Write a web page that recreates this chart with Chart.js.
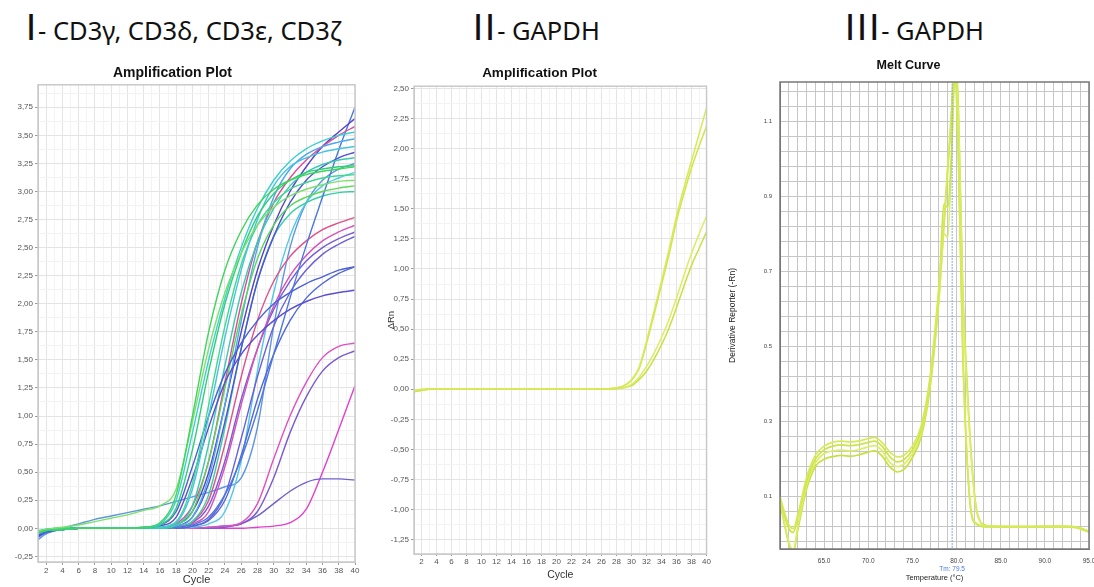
<!DOCTYPE html>
<html>

<head>
    <title>qPCR Amplification and Melt Curves</title>
    <script src="https://cdn.jsdelivr.net/npm/chart.js"></script>
    <style>
        body {
            margin: 0;
            width: 1094px;
            height: 587px;
            overflow: hidden;
            position: relative;
            background: #fff;
            font-family: "Noto Sans", sans-serif;
        }

        .heading {
            position: absolute;
            top: 6px;
            font-size: 25.5px;
            line-height: 40px;
            color: #111;
            white-space: nowrap;
        }

        .heading .rn {
            font-family: Lato, "Liberation Sans", sans-serif;
            font-weight: 400;
            font-size: 36px;
            letter-spacing: 2px;
        }

        .panel {
            position: absolute;
        }
    </style>
</head>

<body>
    <div class="heading" style="left:26px"><span class="rn">I</span>- CD3γ, CD3δ, CD3ε, CD3ζ</div>
    <div class="heading" style="left:473px"><span class="rn">II</span>- GAPDH</div>
    <div class="heading" style="left:845px"><span class="rn">III</span>- GAPDH</div>

    <div class="panel" style="left:-10px; top:60px; width:372px; height:527px"><canvas id="amp-cd3"></canvas></div>
    <div class="panel" style="left:372px; top:60px; width:340px; height:521px"><canvas id="amp-gapdh"></canvas></div>
    <div class="panel" style="left:728px; top:50px; width:378px; height:537px"><canvas id="melt-gapdh"></canvas></div>

    <script>
        // ---- CD3 amplification (delta Rn per cycle) ----
        const cd3Cycles = [1, 2, 4, 6, 8, 10, 12, 14, 16, 18, 20, 22, 24, 26, 28, 30, 32, 34, 36, 38, 40];

        const g1 = [-0.04, -0.02, -0.01, 0, 0, 0, 0, 0.01, 0.05, 0.30, 1.00, 1.75, 2.30, 2.65, 2.88, 3.02, 3.10, 3.15, 3.18, 3.20, 3.22];
        const g2 = [-0.03, -0.01, 0.01, 0.03, 0.06, 0.09, 0.12, 0.16, 0.20, 0.35, 0.95, 1.60, 2.10, 2.45, 2.70, 2.86, 2.96, 3.02, 3.06, 3.09, 3.10];
        const c1 = [-0.05, -0.02, -0.01, 0, 0, 0, 0, 0.01, 0.04, 0.25, 0.85, 1.50, 2.05, 2.50, 2.85, 3.10, 3.27, 3.38, 3.45, 3.50, 3.53];
        const g3 = [-0.04, -0.02, -0.01, 0, 0, 0, 0, 0, 0.03, 0.18, 0.70, 1.40, 2.00, 2.45, 2.78, 2.98, 3.10, 3.17, 3.20, 3.22, 3.23];
        const c2 = [-0.03, -0.01, -0.01, 0, 0, 0, 0, 0, 0.01, 0.05, 0.35, 1.00, 1.70, 2.30, 2.75, 3.05, 3.22, 3.30, 3.35, 3.38, 3.40];
        const g4 = [-0.02, -0.01, 0, 0, 0, 0, 0, 0, 0.01, 0.06, 0.40, 1.10, 1.80, 2.35, 2.70, 2.90, 3.02, 3.08, 3.12, 3.14, 3.15];
        const b1 = [-0.06, -0.03, -0.01, 0, 0, 0, 0, 0.01, 0.03, 0.15, 0.55, 1.00, 1.38, 1.65, 1.85, 2.00, 2.10, 2.18, 2.24, 2.30, 2.33];
        const b2 = [-0.05, -0.02, -0.01, 0, 0, 0, 0, 0, 0.02, 0.10, 0.45, 0.90, 1.30, 1.55, 1.72, 1.85, 1.95, 2.02, 2.07, 2.10, 2.12];
        const c3 = [-0.03, -0.01, 0, 0, 0, 0, 0, 0, 0, 0.03, 0.20, 0.75, 1.45, 2.10, 2.55, 2.85, 3.05, 3.17, 3.24, 3.28, 3.30];
        const g5 = [-0.04, -0.02, -0.01, 0, 0, 0, 0, 0, 0, 0.03, 0.15, 0.60, 1.25, 1.90, 2.40, 2.70, 2.87, 2.95, 3.00, 3.03, 3.05];
        const lb1 = [-0.05, -0.02, -0.01, 0, 0, 0, 0, 0, 0, 0.02, 0.10, 0.45, 1.10, 1.85, 2.50, 2.95, 3.20, 3.33, 3.40, 3.44, 3.47];
        const v6 = [-0.06, -0.03, -0.01, 0, 0, 0, 0, 0, 0, 0.02, 0.10, 0.40, 0.95, 1.60, 2.20, 2.60, 2.90, 3.10, 3.22, 3.30, 3.35];
        const p1 = [-0.05, -0.02, -0.01, 0, 0, 0, 0, 0, 0, 0.04, 0.20, 0.60, 1.30, 2.00, 2.55, 2.90, 3.12, 3.28, 3.40, 3.50, 3.58];
        const v1 = [-0.07, -0.03, -0.01, 0, 0, 0, 0, 0, 0, 0.03, 0.15, 0.50, 1.10, 1.75, 2.30, 2.70, 3.00, 3.22, 3.40, 3.53, 3.65];
        const b3 = [-0.08, -0.04, -0.01, 0, 0, 0, 0, 0, 0, 0.01, 0.03, 0.10, 0.30, 0.62, 1.05, 1.55, 2.05, 2.52, 2.95, 3.37, 3.75];
        const g6 = [-0.03, -0.01, 0, 0, 0, 0, 0, 0, 0, 0.01, 0.06, 0.30, 0.90, 1.60, 2.20, 2.60, 2.80, 2.90, 2.96, 2.99, 3.00];
        const p2 = [-0.04, -0.02, -0.01, 0, 0, 0, 0, 0, 0, 0.01, 0.06, 0.25, 0.75, 1.35, 1.85, 2.20, 2.42, 2.56, 2.66, 2.72, 2.77];
        const p3 = [-0.05, -0.02, -0.01, 0, 0, 0, 0, 0, 0, 0.01, 0.04, 0.15, 0.55, 1.10, 1.60, 1.98, 2.25, 2.43, 2.56, 2.64, 2.70];
        const v2 = [-0.05, -0.02, -0.01, 0, 0, 0, 0, 0, 0, 0.01, 0.05, 0.20, 0.60, 1.15, 1.60, 1.95, 2.20, 2.38, 2.50, 2.58, 2.64];
        const v3 = [-0.06, -0.03, -0.01, 0, 0, 0, 0, 0, 0, 0, 0.02, 0.08, 0.30, 0.80, 1.35, 1.80, 2.10, 2.30, 2.44, 2.53, 2.60];
        const b4 = [-0.06, -0.03, -0.01, 0, 0, 0, 0, 0, 0, 0, 0.02, 0.07, 0.25, 0.65, 1.15, 1.55, 1.85, 2.05, 2.18, 2.27, 2.33];
        const c4 = [-0.04, -0.02, -0.01, 0, 0, 0, 0, 0, 0, 0, 0.01, 0.04, 0.15, 0.60, 1.40, 2.10, 2.60, 2.90, 3.05, 3.12, 3.17];
        const lb2 = [-0.10, -0.05, 0, 0.04, 0.08, 0.11, 0.14, 0.17, 0.20, 0.24, 0.28, 0.32, 0.37, 0.45, 0.90, 1.80, 2.50, 2.90, 3.10, 3.20, 3.25];
        const p4 = [-0.05, -0.02, -0.01, 0, 0, 0, 0, 0, 0, 0, 0, 0.01, 0.02, 0.05, 0.22, 0.62, 1.00, 1.30, 1.52, 1.62, 1.65];
        const v4 = [-0.06, -0.03, -0.01, 0, 0, 0, 0, 0, 0, 0, 0, 0.01, 0.02, 0.04, 0.15, 0.45, 0.85, 1.17, 1.40, 1.52, 1.58];
        const v5 = [-0.07, -0.03, -0.01, 0, 0, 0, 0, 0, 0, 0, 0, 0, 0.01, 0.04, 0.11, 0.22, 0.33, 0.41, 0.44, 0.44, 0.43];
        const m1 = [-0.05, -0.02, -0.01, 0, 0, 0, 0, 0, 0, 0, 0, 0, 0, 0, 0.01, 0.02, 0.05, 0.17, 0.50, 0.88, 1.27];

        const cd3Lines = [g1, g2, c1, g3, c2, g4, b1, b2, c3, g5, lb1, v6, p1, v1, b3, g6, p2, p3, v2, v3, b4, c4, lb2, p4, v4, v5, m1];
        const cd3Colors = ['#3fd45a', '#7de06a', '#3ccfcf', '#2ecf78', '#45c3e0', '#40d890', '#4a5fd8', '#5a4fd0', '#38cbb0',
            '#58d858', '#4aa8ec', '#5050d8', '#e04a9a', '#5a3fc8', '#4a78e0', '#33d0a0', '#e0508a', '#d850b8', '#7a5ad8',
            '#6a60d8', '#5068d8', '#50c8e8', '#5f96e0', '#e050c0', '#7a58d0', '#7060d0', '#e040d0'];

        // ---- GAPDH amplification ----
        const gapdhCycles = [1, 2, 3, 4, 6, 8, 12, 16, 20, 24, 26, 27, 28, 29, 30, 31, 32, 33, 34, 35, 36, 37, 38, 39, 40];
        const gapdhA = [-0.01, 0, 0.005, 0.005, 0, 0, 0, 0, 0, 0, 0.002, 0.005, 0.012, 0.03, 0.08, 0.18, 0.40, 0.65, 0.90, 1.16, 1.44, 1.68, 1.90, 2.12, 2.34];
        const gapdhB = [-0.02, -0.005, 0, 0.005, 0, 0, 0, 0, 0, 0, 0.002, 0.005, 0.01, 0.028, 0.075, 0.17, 0.38, 0.62, 0.87, 1.12, 1.40, 1.63, 1.84, 2.02, 2.19];
        const gapdhC = [-0.015, -0.005, 0, 0.005, 0, 0, 0, 0, 0, 0, 0, 0.003, 0.007, 0.015, 0.04, 0.10, 0.19, 0.30, 0.43, 0.58, 0.76, 0.95, 1.13, 1.29, 1.44];
        const gapdhD = [-0.02, -0.01, 0, 0.003, 0, 0, 0, 0, 0, 0, 0, 0.002, 0.005, 0.012, 0.03, 0.08, 0.15, 0.25, 0.37, 0.51, 0.68, 0.86, 1.03, 1.17, 1.31];
        const gapdhColors = ['#d7ea55', '#cfe44a', '#dcec64', '#c9e040'];

        // ---- GAPDH melt curve (derivative reporter vs temperature) ----
        const meltTemps = [60, 61, 61.5, 62, 63, 64, 65, 66, 67, 68, 69, 70, 70.7, 71.5, 72.5, 73.3, 74, 75, 76, 77,
            78, 78.6, 79, 79.4, 79.8, 80.2, 80.7, 81.2, 81.7, 82.2, 82.7, 83.2, 84, 86, 88, 90, 92, 93.5, 95];
        const meltA = [0.10, 0.025, 0.015, 0.05, 0.15, 0.21, 0.235, 0.245, 0.248, 0.246, 0.249, 0.255, 0.258, 0.246, 0.218, 0.206, 0.21, 0.235, 0.29, 0.42,
            0.66, 0.84, 0.98, 1.12, 1.26, 1.02, 0.50, 0.20, 0.055, 0.03, 0.024, 0.022, 0.021, 0.02, 0.02, 0.021, 0.021, 0.019, 0.008];
        const meltB = [0.095, 0.015, 0.005, 0.045, 0.14, 0.20, 0.225, 0.235, 0.238, 0.236, 0.239, 0.245, 0.248, 0.236, 0.205, 0.193, 0.198, 0.225, 0.28, 0.41,
            0.65, 0.88, 0.87, 1.00, 1.22, 1.00, 0.48, 0.19, 0.05, 0.028, 0.022, 0.02, 0.02, 0.019, 0.019, 0.02, 0.02, 0.018, 0.006];
        const meltC = [0.09, -0.02, -0.045, 0.02, 0.13, 0.19, 0.215, 0.222, 0.224, 0.222, 0.226, 0.233, 0.236, 0.224, 0.19, 0.18, 0.186, 0.215, 0.27, 0.40,
            0.62, 0.80, 0.79, 0.98, 1.24, 1.12, 0.64, 0.38, 0.19, 0.07, 0.032, 0.024, 0.021, 0.02, 0.02, 0.02, 0.021, 0.019, 0.007];
        const meltD = [0.085, -0.025, -0.05, 0.01, 0.12, 0.18, 0.2, 0.207, 0.21, 0.208, 0.212, 0.219, 0.222, 0.21, 0.178, 0.166, 0.172, 0.205, 0.26, 0.39,
            0.63, 0.83, 0.97, 1.1, 1.28, 1.14, 0.66, 0.40, 0.20, 0.075, 0.034, 0.025, 0.022, 0.021, 0.021, 0.021, 0.021, 0.02, 0.008];
        const meltColors = ['#d6ea58', '#cde44a', '#dbee66', '#c8e040'];
        const meltTm = 79.5;

        Chart.defaults.font.family = '"Liberation Sans", Arial, sans-serif';
        Chart.defaults.animation = false;

        const onStep = (v, step) => Math.abs(v / step - Math.round(v / step)) < 1e-6;
        const comma = v => (Math.abs(v) < 1e-9 ? 0 : v).toFixed(2).replace('.', ',');

        // ticks on every multiple of step inside the axis range (plus an offset)
        function stepTicks(step, offset) {
            offset = offset || 0;
            return s => {
                const out = [];
                const k0 = Math.ceil((s.min - offset) / step - 1e-9);
                const k1 = Math.floor((s.max - offset) / step + 1e-9);
                for (let k = k0; k <= k1; k++) {
                    out.push({ value: +(offset + k * step).toFixed(4) });
                }
                s.ticks = out;
            };
        }

        // box around the plotting area
        const frame = {
            id: 'frame',
            afterDraw(chart, args, opts) {
                const a = chart.chartArea;
                const ctx = chart.ctx;
                ctx.save();
                ctx.strokeStyle = opts.color;
                ctx.lineWidth = opts.width;
                ctx.strokeRect(a.left, a.top, a.right - a.left, a.bottom - a.top);
                ctx.restore();
            }
        };

        function toPoints(xs, ys) {
            return xs.map((x, i) => ({ x: x, y: ys[i] }));
        }

        function lineSet(xs, ys, color, width) {
            return {
                data: toPoints(xs, ys),
                borderColor: color,
                borderWidth: width,
                pointRadius: 0,
                cubicInterpolationMode: 'monotone',
                fill: false
            };
        }

        function amplificationChart(id, datasets, yMin, yMax, opts) {
            return new Chart(document.getElementById(id), {
                type: 'line',
                data: { datasets: datasets },
                plugins: [frame],
                options: {
                    responsive: true,
                    maintainAspectRatio: false,
                    layout: { padding: { right: opts.right } },
                    plugins: {
                        legend: { display: false },
                        tooltip: { enabled: false },
                        frame: { color: '#c9c9c9', width: 1.5 },
                        title: {
                            display: true,
                            text: 'Amplification Plot',
                            color: '#111',
                            font: { size: opts.titleSize, weight: 'bold' },
                            padding: opts.titlePad
                        }
                    },
                    scales: {
                        x: {
                            type: 'linear',
                            min: 1,
                            max: 40,
                            afterFit: s => { s.height = opts.xHeight; },
                            border: { color: '#c9c9c9' },
                            grid: {
                                color: c => c.tick && c.tick.value % 2 === 0 ? '#e4e4e4' : '#f3f3f3',
                                tickColor: c => c.tick && c.tick.value % 2 === 0 ? '#999' : 'rgba(0,0,0,0)',
                                tickLength: opts.tickLen
                            },
                            ticks: {
                                stepSize: 1,
                                autoSkip: false,
                                maxRotation: 0,
                                padding: 1,
                                color: '#555',
                                font: { size: 8 },
                                callback: v => v % 2 === 0 ? String(v) : ''
                            },
                            title: {
                                display: true,
                                text: 'Cycle',
                                color: '#333',
                                font: { size: opts.cycleSize },
                                padding: { top: 0, bottom: opts.cyclePad }
                            }
                        },
                        y: {
                            min: yMin,
                            max: yMax,
                            afterFit: s => { s.width = opts.yWidth; },
                            afterBuildTicks: stepTicks(0.125),
                            border: { color: '#c9c9c9' },
                            grid: {
                                color: c => c.tick && onStep(c.tick.value, 0.25) ? '#e4e4e4' : '#f3f3f3',
                                tickColor: c => c.tick && onStep(c.tick.value, 0.25) ? '#999' : 'rgba(0,0,0,0)',
                                tickLength: 3
                            },
                            ticks: {
                                autoSkip: false,
                                padding: 2,
                                color: '#555',
                                font: { size: 8 },
                                callback: v => onStep(v, 0.25) ? comma(v) : ''
                            },
                            title: opts.yTitle
                        }
                    }
                }
            });
        }

        amplificationChart('amp-cd3',
            cd3Lines.map((ys, i) => lineSet(cd3Cycles, ys, cd3Colors[i], 1.4)),
            -0.30, 3.95,
            {
                right: 7, titleSize: 14, titlePad: { top: 5, bottom: 3 }, xHeight: 25, yWidth: 48,
                tickLen: 3, cycleSize: 11, cyclePad: 0, yTitle: { display: false }
            });

        amplificationChart('amp-gapdh',
            [gapdhA, gapdhB, gapdhC, gapdhD].map((ys, i) => lineSet(gapdhCycles, ys, gapdhColors[i], 1.5)),
            -1.37, 2.52,
            {
                right: 5, titleSize: 13.5, titlePad: { top: 5, bottom: 5 }, xHeight: 27, yWidth: 42,
                tickLen: 2, cycleSize: 10.5, cyclePad: 0,
                yTitle: { display: true, text: 'ΔRn', color: '#333', font: { size: 9.5 }, padding: { top: 14, bottom: 0 } }
            });

        // Tm marker label under the temperature axis
        const tmLabel = {
            id: 'tmLabel',
            afterDraw(chart) {
                const x = chart.scales.x.getPixelForValue(meltTm);
                const ctx = chart.ctx;
                ctx.save();
                ctx.fillStyle = '#4a7be0';
                ctx.font = '6.5px "Liberation Sans", Arial, sans-serif';
                ctx.textAlign = 'center';
                ctx.textBaseline = 'middle';
                ctx.fillText('Tm: ' + meltTm, x, chart.chartArea.bottom + 20);
                ctx.restore();
            }
        };

        const meltSets = [meltA, meltB, meltC, meltD].map((ys, i) => lineSet(meltTemps, ys, meltColors[i], 1.7));
        meltSets.unshift({
            data: [{ x: meltTm, y: -0.1 }, { x: meltTm, y: 1.5 }],
            borderColor: '#7ea6f0',
            borderWidth: 1,
            borderDash: [2, 1],
            pointRadius: 0
        });

        new Chart(document.getElementById('melt-gapdh'), {
            type: 'line',
            data: { datasets: meltSets },
            plugins: [frame, tmLabel],
            options: {
                responsive: true,
                maintainAspectRatio: false,
                layout: { padding: { right: 17 } },
                plugins: {
                    legend: { display: false },
                    tooltip: { enabled: false },
                    frame: { color: '#777', width: 1.5 },
                    title: {
                        display: true,
                        text: 'Melt Curve',
                        color: '#111',
                        font: { size: 12.5, weight: 'bold' },
                        padding: { top: 8.5, bottom: 8.5 }
                    }
                },
                scales: {
                    x: {
                        type: 'linear',
                        min: 60,
                        max: 95,
                        afterFit: s => { s.height = 38; },
                        border: { color: '#777' },
                        grid: { color: '#c6c6c6', drawTicks: false },
                        ticks: {
                            stepSize: 1,
                            autoSkip: false,
                            maxRotation: 0,
                            padding: 8,
                            color: '#444',
                            font: { size: 6.5 },
                            callback: v => (v % 5 === 0 && v > 60) ? v.toFixed(1) : ''
                        },
                        title: {
                            display: true,
                            text: 'Temperature (°C)',
                            color: '#222',
                            font: { size: 7.5 },
                            padding: { top: 0, bottom: 4.5 }
                        }
                    },
                    y: {
                        min: -0.039,
                        max: 1.204,
                        afterFit: s => { s.width = 52; },
                        afterBuildTicks: stepTicks(0.04, 0.1),
                        border: { color: '#777' },
                        grid: { color: '#c6c6c6', drawTicks: false },
                        ticks: {
                            autoSkip: false,
                            padding: 8,
                            color: '#444',
                            font: { size: 6 },
                            callback: v => onStep(v - 0.1, 0.2) ? v.toFixed(1) : ''
                        },
                        title: {
                            display: true,
                            text: 'Derivative Reporter (-Rn)',
                            color: '#222',
                            font: { size: 8.5 },
                            padding: { top: 0, bottom: 0 }
                        }
                    }
                }
            }
        });
    </script>
</body>

</html>
